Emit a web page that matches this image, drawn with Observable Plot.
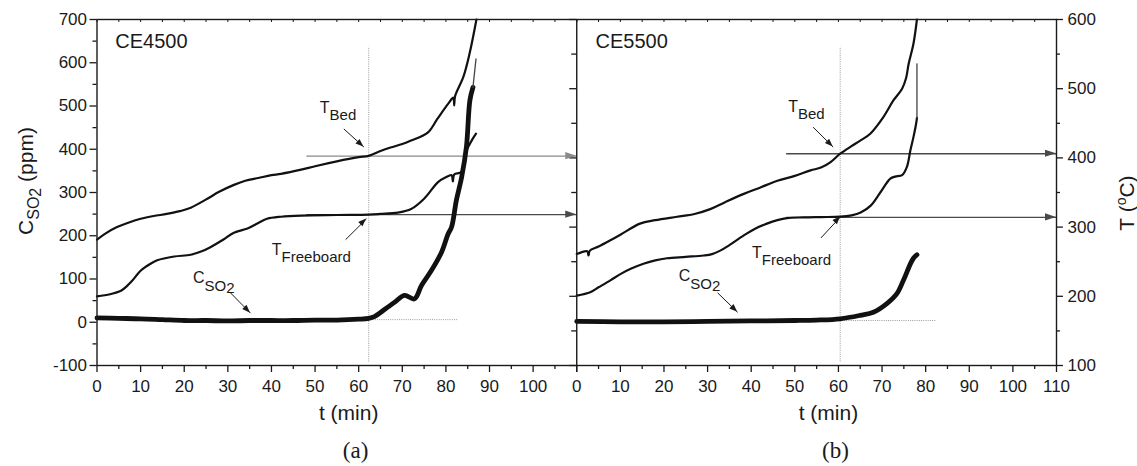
<!DOCTYPE html>
<html>
<head>
<meta charset="utf-8">
<script src="https://cdn.jsdelivr.net/npm/d3@7"></script>
<script src="https://cdn.jsdelivr.net/npm/@observablehq/plot@0.6"></script>
<style>
  html, body { margin: 0; padding: 0; background: #fff; }
  #chart { width: 1137px; height: 466px; }
</style>
</head>
<body>
<div id="chart"></div>
<script>
// ---------------- data ----------------
const panels = ["CE4500", "CE5500"];
const panelTags = ["(a)", "(b)"];
const panelSpan = 110;               // minutes per panel
const ppmDomain = [-100, 700];       // left axis, C_SO2 (ppm)
const tempDomain = [100, 600];       // right axis, T (°C)

// CE4500 — [t (min), T (°C)]
const bedA = [[0,282],[2,291],[4.6,300],[7,306],[10,312],[13,316],[16,319],[19,323],[21.5,328],[25.3,341],[28,351],[31.4,361],[34,367],[37,371],[40,375],[42.2,377],[46.8,383],[50,388],[55,395],[60,401],[62.3,403],[65,410],[67.3,415],[70,420],[72,425],[75.9,437],[78,456],[80.5,478],[81.7,487],[81.9,476],[82.1,489],[84,517],[85.4,550],[87,600]];
const freeA = [[0,200],[3,203],[5.5,208],[6.9,215],[8,222],[10,237],[12,246],[13.8,252],[17.7,257.5],[21.5,260],[24,265],[26,271],[29,282],[31.4,292],[34.5,298],[37,306],[39,312],[42.2,315],[46.8,316.7],[55,317.5],[62.3,318],[65,319],[69,321],[72,326],[75,341],[78.2,365],[80,372],[81.3,375],[81.6,366],[81.9,376],[83.6,380],[84.7,410],[85.9,425],[86.9,435]];
// CE4500 — [t (min), C_SO2 (ppm)]
const so2A = [[0,10],[5,9],[10,8],[15,6],[20,4],[25,4],[30,3],[35,4],[40,4],[45,4],[50,5],[55,5],[60,7],[62.3,9],[63.6,13],[66,30],[68.2,46],[70.5,62],[72.8,54],[74.4,85],[76.7,120],[79,162],[80.5,204],[81.3,220],[82.4,282],[83.6,335],[84.7,405],[85.5,513],[86.2,543]];
const so2ATail = [[86.2,543],[86.9,609]];

// CE5500 — [t (min), T (°C)]
const bedB = [[0,261],[2.4,265],[2.7,259],[3.0,266],[5,272],[7.7,281],[10,289],[14.5,305],[18,310],[23,315],[27,319],[30.6,326],[34,336],[38.3,348],[42,357],[46,367],[50,374],[53.6,382],[56,386],[58.2,394],[60.4,406],[63,417],[65,425],[67.3,435],[70.3,459],[72.6,483],[74.6,500],[75.5,515],[76.1,536],[77.2,565],[78,600]];
const freeB = [[0,201],[3.1,206],[5,213],[7.7,223],[10,232],[12.5,240],[15.3,247],[18,252],[20.7,255],[25,257],[29.1,259],[31,261],[32.9,266],[35,274],[38.3,288],[41,298],[43.6,305],[46,310],[48.2,313],[52,314],[56,314.5],[60.4,315],[63,317],[65.1,321],[67.4,331],[69.6,350],[71.9,370],[73,373],[74.6,375],[75.7,387],[76.5,411],[77.2,430],[77.8,449],[78,458]];
const freeBTail = [[78,458],[78,536]];
// CE5500 — [t (min), C_SO2 (ppm)]
const so2B = [[0,2],[10,1],[20,1],[30,2],[40,3],[50,4],[55,5],[60.4,8],[65,16],[68,23],[71.1,43],[73.4,66],[74.9,97],[76.5,135],[77.2,148],[78,156]];

// reading guides per panel
const markTime = [62.3, 60.4];          // vertical dotted line (min)
const markSpanPpm = [[-92, 636], [-92, 636]];
const baseSo2 = [6, 4];                 // horizontal dotted (ppm)
const baseSo2End = [82.8, 82.6];        // end of horizontal dotted (min)
const readBed = [402.5, 406];           // T_Bed read at markTime (°C)
const readFree = [318, 314];            // T_Freeboard read at markTime (°C)
const readStart = [48, 48];             // start of read-off arrows (min)

// ticks
const tMajor = [0,10,20,30,40,50,60,70,80,90,100,110];
const tMinor = [5,15,25,35,45,55,65,75,85,95,105];
const tLabelsA = [0,10,20,30,40,50,60,70,80,90,100];
const tLabelsB = [0,10,20,30,40,50,60,70,80,90,100,110];
const ppmMajor = [-100,0,100,200,300,400,500,600,700];
const ppmMinor = [-50,50,150,250,350,450,550,650];
const tempMajor = [100,200,300,400,500,600];
const tempMinor = [150,250,350,450,550];

// ---------------- helpers ----------------
const toPpm = T => ppmDomain[0] + (T - tempDomain[0]) * (ppmDomain[1] - ppmDomain[0]) / (tempDomain[1] - tempDomain[0]);
const rows = (pts, panel, key, isTemp) => pts.map(([t, v]) => ({u: t + panel * panelSpan, v: isTemp ? toPpm(v) : v, key: key + panel}));

const tempRows = [...rows(bedA, 0, "bed", true), ...rows(freeA, 0, "free", true), ...rows(bedB, 1, "bed", true), ...rows(freeB, 1, "free", true)];
const so2Rows = [...rows(so2A, 0, "so2", false), ...rows(so2B, 1, "so2", false)];
const tailRows = [...rows(freeBTail, 1, "freeTail", true), ...rows(so2ATail, 0, "so2Tail", false)];

const idx = [0, 1];
const xMajorRows = idx.flatMap(p => tMajor.map(t => ({u: t + p * panelSpan})));
const xMinorRows = idx.flatMap(p => tMinor.map(t => ({u: t + p * panelSpan})));
const xLabelRows = [...tLabelsA.map(t => ({u: t, t})), ...tLabelsB.map(t => ({u: t + panelSpan, t}))];

// read-off arrows (horizontal) and annotation arrows
const readArrows = idx.flatMap(p => [
  {x1: readStart[p] + p * panelSpan, x2: (p + 1) * panelSpan, y1: toPpm(readBed[p]), y2: toPpm(readBed[p]), kind: "bed", panel: p},
  {x1: readStart[p] + p * panelSpan, x2: (p + 1) * panelSpan, y1: toPpm(readFree[p]), y2: toPpm(readFree[p]), kind: "free", panel: p}
]);
// annotation pointers: [panel, t1, ppm1, t2, ppm2]
const pointers = [
  [0, 56.6, 447, 61.2, 405], [0, 57.0, 191, 61.8, 239], [0, 30.6, 68, 35.2, 21],
  [1, 54.2, 451, 58.8, 405], [1, 56.0, 195, 60.5, 244], [1, 32.3, 68, 36.9, 23]
];
const pointerRows = pointers.map(([p, a, b, c, d]) => ({x1: a + p * panelSpan, y1: b, x2: c + p * panelSpan, y2: d}));

// annotation label anchors: [panel, t, ppm]
const bedLabelAt = [[0, 51.2, 483], [1, 48.6, 485]];
const freeLabelAt = [[0, 40.2, 155], [1, 40.3, 147]];
const so2LabelAt = [[0, 22.1, 90], [1, 23.5, 94]];
const nameLabelAt = [[0, 4.2, 635], [1, 4.3, 635]];

// ---------------- style ----------------
const SANS = '"Liberation Sans", Arial, Helvetica, sans-serif';
const INK = "#1a1a1a";
const readColor = {bed0: "#8a8a8a", free0: "#4a4a4a", bed1: "#4a4a4a", free1: "#4a4a4a"};

const chart = Plot.plot({
  width: 1137, height: 466,
  marginLeft: 96.5, marginRight: 81, marginTop: 19, marginBottom: 101,
  style: {fontFamily: SANS, fontSize: "17px", background: "#fff", color: INK},
  x: {domain: [0, 2 * panelSpan], axis: null},
  y: {domain: ppmDomain, axis: null},
  marks: [
    // guides
    Plot.ruleX(idx, {x: p => markTime[p] + p * panelSpan, y1: p => markSpanPpm[p][0], y2: p => markSpanPpm[p][1], stroke: "#9a9a9a", strokeWidth: 1, strokeDasharray: "1,1.2"}),
    Plot.ruleY(idx, {y: p => baseSo2[p], x1: p => markTime[p] + p * panelSpan, x2: p => baseSo2End[p] + p * panelSpan, stroke: "#9a9a9a", strokeWidth: 1, strokeDasharray: "1,1.2"}),
    // read-off arrows (shafts)
    Plot.link(readArrows, {x1: "x1", x2: "x2", y1: "y1", y2: "y2", stroke: d => readColor[d.kind + d.panel], strokeWidth: 1.4}),
    // series
    Plot.line(tempRows, {x: "u", y: "v", z: "key", stroke: "#111", strokeWidth: 2.2, curve: "catmull-rom"}),
    Plot.line(so2Rows, {x: "u", y: "v", z: "key", stroke: "#111", strokeWidth: 4.8, curve: "catmull-rom"}),
    Plot.line(tailRows, {x: "u", y: "v", z: "key", stroke: "#444", strokeWidth: 1.3}),
    // pointer shafts
    Plot.link(pointerRows, {x1: "x1", x2: "x2", y1: "y1", y2: "y2", stroke: INK, strokeWidth: 1}),
    // frame and divider
    Plot.frame({stroke: INK, strokeWidth: 1.4}),
    Plot.ruleX([panelSpan], {stroke: INK, strokeWidth: 1.4}),
    // bottom ticks (outward)
    Plot.ruleX(xMajorRows, {x: "u", y1: ppmDomain[0], y2: ppmDomain[0], insetBottom: -7, stroke: INK, strokeWidth: 1.3}),
    Plot.ruleX(xMinorRows, {x: "u", y1: ppmDomain[0], y2: ppmDomain[0], insetBottom: -4, stroke: INK, strokeWidth: 1.3}),
    // top ticks (inward)
    Plot.ruleX([...xMajorRows, ...xMinorRows], {x: "u", y1: ppmDomain[1], y2: ppmDomain[1], insetBottom: -3, stroke: INK, strokeWidth: 1}),
    // left ticks
    Plot.ruleY(ppmMajor, {y: d => d, x1: 0, x2: 0, insetLeft: -7, stroke: INK, strokeWidth: 1.3}),
    Plot.ruleY(ppmMinor, {y: d => d, x1: 0, x2: 0, insetLeft: -4, stroke: INK, strokeWidth: 1.3}),
    // divider ticks (temperature scale, pointing left)
    Plot.ruleY(tempMajor, {y: d => toPpm(d), x1: panelSpan, x2: panelSpan, insetLeft: -7, stroke: INK, strokeWidth: 1.3}),
    Plot.ruleY(tempMinor, {y: d => toPpm(d), x1: panelSpan, x2: panelSpan, insetLeft: -5, stroke: INK, strokeWidth: 1.3}),
    // right ticks (temperature)
    Plot.ruleY(tempMajor, {y: d => toPpm(d), x1: 2 * panelSpan, x2: 2 * panelSpan, insetRight: -7, stroke: INK, strokeWidth: 1.3}),
    Plot.ruleY(tempMinor, {y: d => toPpm(d), x1: 2 * panelSpan, x2: 2 * panelSpan, insetRight: -4, stroke: INK, strokeWidth: 1.3}),
    // tick labels
    Plot.text(xLabelRows, {x: "u", y: ppmDomain[0], text: d => String(d.t), dy: 21, fill: INK, fontSize: 17}),
    Plot.text(ppmMajor, {x: 0, y: d => d, text: d => String(d), dx: -10, textAnchor: "end", fill: INK, fontSize: 17}),
    Plot.text(tempMajor, {x: 2 * panelSpan, y: d => toPpm(d), text: d => String(d), dx: 11, textAnchor: "start", fill: INK, fontSize: 17}),
    // x titles and panel tags
    Plot.text(idx, {x: p => 57.7 + p * panelSpan, y: ppmDomain[0], text: () => "t (min)", dy: 48, fill: INK, fontSize: 21}),
    Plot.text(idx, {x: p => 59.3 + p * panelSpan, y: ppmDomain[0], text: p => panelTags[p], dy: 85, fill: INK, fontSize: 23, fontFamily: '"Liberation Serif", "Times New Roman", serif'}),
    // panel names
    Plot.text(nameLabelAt, {x: d => d[1] + d[0] * panelSpan, y: d => d[2], text: d => panels[d[0]], textAnchor: "start", lineAnchor: "bottom", fill: INK, fontSize: 20})
  ]
});
document.getElementById("chart").appendChild(chart);

// ---------------- rich text and arrow heads (positioned with the plot's scales) ----------------
const sx = chart.scale("x").apply, sy = chart.scale("y").apply;
const svg = d3.select(chart);

function head(x1, y1, x2, y2, L, Wd, color) {
  const X1 = sx(x1), Y1 = sy(y1), X2 = sx(x2), Y2 = sy(y2);
  const dx = X2 - X1, dy = Y2 - Y1, n = Math.hypot(dx, dy), ux = dx / n, uy = dy / n;
  const bx = X2 - ux * L, by = Y2 - uy * L;
  svg.append("path")
    .attr("d", `M${X2},${Y2}L${bx - uy * Wd},${by + ux * Wd}L${bx + uy * Wd},${by - ux * Wd}Z`)
    .attr("fill", color);
}
readArrows.forEach(d => head(d.x1, d.y1, d.x2, d.y2, 11, 3.6, readColor[d.kind + d.panel]));
pointerRows.forEach(d => head(d.x1, d.y1, d.x2, d.y2, 8, 3, INK));

function rich(x, y, parts, opts = {}) {
  const t = svg.append("text")
    .attr("transform", `translate(${x},${y}) rotate(${opts.rotate || 0})`)
    .attr("text-anchor", opts.anchor || "start")
    .attr("font-family", SANS)
    .attr("fill", INK);
  let prev = 0;
  parts.forEach(p => {
    const s = p.shift || 0;
    t.append("tspan").attr("font-size", p.size).attr("dy", s - prev).text(p.text);
    prev = s;
  });
}
bedLabelAt.forEach(([p, t, v]) => rich(sx(t + p * panelSpan), sy(v), [{text: "T", size: 16}, {text: "Bed", size: 15, shift: 7}]));
freeLabelAt.forEach(([p, t, v]) => rich(sx(t + p * panelSpan), sy(v), [{text: "T", size: 16}, {text: "Freeboard", size: 15, shift: 7}]));
so2LabelAt.forEach(([p, t, v]) => rich(sx(t + p * panelSpan), sy(v), [{text: "C", size: 16}, {text: "SO", size: 15, shift: 8}, {text: "2", size: 15, shift: 10}]));

// y titles
rich(33, 181, [{text: "C", size: 21}, {text: "SO", size: 16, shift: 6}, {text: "2", size: 16, shift: 8}, {text: " (ppm)", size: 21, shift: 0}], {rotate: -90, anchor: "middle"});
rich(1134, 203, [{text: "T (", size: 21}, {text: "o", size: 14, shift: -8}, {text: "C)", size: 21, shift: 0}], {rotate: -90, anchor: "middle"});
</script>
</body>
</html>
